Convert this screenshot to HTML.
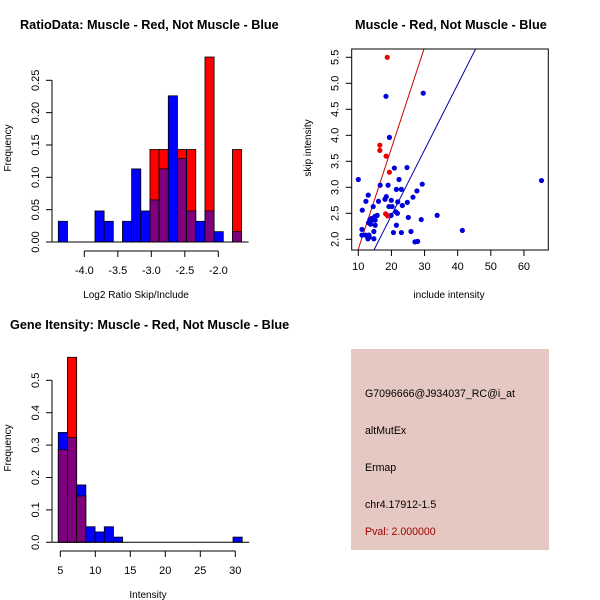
<!DOCTYPE html>
<html><head><meta charset="utf-8"><style>
html,body{margin:0;padding:0;background:#fff}
svg{display:block;font-family:"Liberation Sans",sans-serif}
</style></head><body>
<svg id="c" width="600" height="600" viewBox="0 0 600 600" xmlns="http://www.w3.org/2000/svg">
<rect width="600" height="600" fill="#fff"/>
<text x="20" y="29" font-size="12.7" font-weight="bold">RatioData: Muscle - Red, Not Muscle - Blue</text>
<text x="355" y="29" font-size="12.7" font-weight="bold">Muscle - Red, Not Muscle - Blue</text>
<text x="10" y="329" font-size="12.7" font-weight="bold">Gene Itensity: Muscle - Red, Not Muscle - Blue</text>
<text x="136" y="298" font-size="10" text-anchor="middle">Log2 Ratio Skip/Include</text>
<text transform="translate(11,148) rotate(-90)" font-size="10" text-anchor="middle">Frequency</text>
<text x="449" y="298" font-size="10" text-anchor="middle">include intensity</text>
<text transform="translate(311,148) rotate(-90)" font-size="10" text-anchor="middle">skip intensity</text>
<text x="148" y="598" font-size="10" text-anchor="middle">Intensity</text>
<text transform="translate(11,448) rotate(-90)" font-size="10" text-anchor="middle">Frequency</text>
<g>
<rect x="351" y="349" width="198" height="201" fill="#e6c8c2"/>
<text x="365" y="397" font-size="10.6">G7096666@J934037_RC@i_at</text>
<text x="365" y="434" font-size="10.6">altMutEx</text>
<text x="365" y="471" font-size="10.6">Ermap</text>
<text x="365" y="508" font-size="10.6">chr4.17912-1.5</text>
<text x="365" y="535" font-size="10.6" fill="#a00000">Pval: 2.000000</text>
</g>
</svg>
<script>
// Ratio histogram data
const ratioBinStart = -4.388;
const ratioBinWidth = 0.1368;
const ratioBlue = [0.032,0,0,0,0.048,0.032,0,0.032,0.113,0.048,0.065,0.113,0.226,0.129,0.048,0.032,0.048,0.016,0,0.016];
const ratioRed  = [0,0,0,0,0,0,0,0,0,0,0.143,0.143,0,0.143,0.143,0,0.286,0,0,0.143];
const ratioXTicks = [-4.0,-3.5,-3.0,-2.5,-2.0];
const ratioYTicks = [0,0.05,0.10,0.15,0.20,0.25];
const ratioYLabels = ["0.00","0.05","0.10","0.15","0.20","0.25"];
// Intensity histogram data
const intBinStart = 4.71;
const intBinWidth = 1.314;
const intBlue = [0.339,0.323,0.177,0.048,0.032,0.048,0.016,0,0,0,0,0,0,0,0,0,0,0,0,0.016];
const intRed  = [0.286,0.571,0.143,0,0,0,0,0,0,0,0,0,0,0,0,0,0,0,0,0];
const intXTicks = [5,10,15,20,25,30];
const intYTicks = [0,0.1,0.2,0.3,0.4,0.5];
const intYLabels = ["0.0","0.1","0.2","0.3","0.4","0.5"];
// Scatter data
const redX = [18.75,16.5,16.5,18.4,19.4,18.25,18.85];
const redY = [5.5,3.81,3.71,3.6,3.29,2.49,2.45];
const blueX = [10,18.35,29.6,19.4,16.6,19,20.9,24.7,22.3,21.5,23,29.3,27.7,26.5,13,12.3,16.1,18.05,18.45,19.96,21.9,24.8,23.3,19.25,20.2,14.5,11.2,21.3,21.8,19.9,33.8,25.1,29,15.7,15,14,13.5,14.3,15.1,13.1,13.7,15.1,21.5,11.1,14.7,20.6,23,25.9,41.4,11.1,12.2,13.2,12.9,14.7,27.1,27.9,65.3,13.3];
const blueY = [3.15,4.75,4.81,3.96,3.04,3.04,3.37,3.38,3.15,2.96,2.96,3.06,2.93,2.81,2.85,2.73,2.73,2.77,2.82,2.75,2.72,2.71,2.65,2.63,2.63,2.63,2.56,2.53,2.5,2.46,2.46,2.42,2.38,2.46,2.44,2.4,2.38,2.37,2.37,2.32,2.29,2.27,2.27,2.19,2.15,2.13,2.13,2.15,2.17,2.08,2.08,2.08,2.01,2.01,1.95,1.96,3.13,2.04];
const redLine = [-0.128,0.194];
const blueLine = [-0.061,0.126];
const scXTicks = [10,20,30,40,50,60];
const scYTicks = [2.0,2.5,3.0,3.5,4.0,4.5,5.0,5.5];

const NS="http://www.w3.org/2000/svg";
const svg=document.getElementById('c');
function mk(tag,attrs,parent){const e=document.createElementNS(NS,tag);for(const k in attrs)e.setAttribute(k,attrs[k]);(parent||svg).appendChild(e);return e;}

function hist(opts){
  const g=mk('g',{});
  
  
  const X=v=>opts.x0px+(v-opts.x0)*opts.xs;
  const Y=v=>opts.y0px-v*opts.ys;
  for(let i=0;i<opts.blue.length;i++){
    const l=X(opts.start+i*opts.w), r=X(opts.start+(i+1)*opts.w);
    const b=opts.blue[i], rd=opts.red[i];
    const hi=Math.max(b,rd), lo=Math.min(b,rd);
    if(hi<=0)continue;
    const e=mk('rect',{x:l,y:Y(hi),width:r-l,height:Y(0)-Y(hi),fill:b>=rd?'#0000ff':'#ff0000',stroke:'#000','stroke-width':0.8},g);
    
    
    if(lo>0){
      const p=mk('rect',{x:l,y:Y(lo),width:r-l,height:Y(0)-Y(lo),fill:'#7f007f',stroke:'#000','stroke-width':0.8},g);
      
      
    }
  }
  const base=mk('line',{x1:X(opts.start)-6,x2:X(opts.start+opts.blue.length*opts.w)+7,y1:Y(0),y2:Y(0),stroke:'#000'},g);
  
  
  const ya=mk('g',{},g);
  
  
  const yt=opts.yTicks;
  mk('line',{x1:opts.yAxisX,x2:opts.yAxisX,y1:Y(yt[0]),y2:Y(yt[yt.length-1]),stroke:'#000'},ya);
  yt.forEach((v,i)=>{
    mk('line',{x1:opts.yAxisX-6,x2:opts.yAxisX,y1:Y(v),y2:Y(v),stroke:'#000'},ya);
    const t=mk('text',{transform:`translate(${opts.yAxisX-13},${Y(v)}) rotate(-90)`,'font-size':11,'text-anchor':'middle'},ya);
    t.textContent=opts.yLabels[i];
    
    
  });
  const xa=mk('g',{},g);
  
  
  const xt=opts.xTicks;
  mk('line',{x1:X(xt[0]),x2:X(xt[xt.length-1]),y1:opts.xAxisY,y2:opts.xAxisY,stroke:'#000'},xa);
  xt.forEach(v=>{
    mk('line',{x1:X(v),x2:X(v),y1:opts.xAxisY,y2:opts.xAxisY+6,stroke:'#000'},xa);
    const t=mk('text',{x:X(v),y:opts.xAxisY+23,'font-size':11,'text-anchor':'middle'},xa);
    t.textContent=opts.xFmt(v);
    
    
  });
}
hist({name:'ratio-histogram',start:ratioBinStart,w:ratioBinWidth,blue:ratioBlue,red:ratioRed,
  x0:-4.0,x0px:84.3,xs:67,y0px:242,ys:646.8,yAxisX:52,xAxisY:251,
  yTicks:ratioYTicks,yLabels:ratioYLabels,xTicks:ratioXTicks,xFmt:v=>v.toFixed(1)});
hist({name:'intensity-histogram',start:intBinStart,w:intBinWidth,blue:intBlue,red:intRed,
  x0:5,x0px:60.3,xs:7,y0px:542.3,ys:324,yAxisX:52,xAxisY:551,
  yTicks:intYTicks,yLabels:intYLabels,xTicks:intXTicks,xFmt:v=>String(v)});

(function(){
  const g=mk('g',{});
  
  
  const X=v=>358.3+(v-10)*3.313;
  const Y=v=>239.3-(v-2)*52;
  const L=351.7,R=548.3,T=49,B=250;
  const cp=mk('clipPath',{id:'sc'},g);
  mk('rect',{x:L,y:T,width:R-L,height:B-T},cp);
  const pl=mk('g',{'clip-path':'url(#sc)'},g);
  [[redLine,'#cc0000','red-fit-line'],[blueLine,'#0000aa','blue-fit-line']].forEach(([c,col,nm])=>{
    const x1=5,x2=80;
    const ln=mk('line',{x1:X(x1),y1:Y(c[0]+c[1]*x1),x2:X(x2),y2:Y(c[0]+c[1]*x2),stroke:col,'stroke-width':1},pl);
    
    
  });
  blueX.forEach((x,i)=>{
    const p=mk('circle',{cx:X(x),cy:Y(blueY[i]),r:2.6,fill:'#0000dd'},pl);
    
    
  });
  redX.forEach((x,i)=>{
    const p=mk('circle',{cx:X(x),cy:Y(redY[i]),r:2.6,fill:'#ee0000'},pl);
    
    
  });
  const box=mk('rect',{x:L,y:T,width:R-L,height:B-T,fill:'none',stroke:'#000'},g);
  
  
  scXTicks.forEach(v=>{
    mk('line',{x1:X(v),x2:X(v),y1:B,y2:B+6,stroke:'#000'},g);
    const t=mk('text',{x:X(v),y:B+20,'font-size':11,'text-anchor':'middle'},g);
    t.textContent=String(v);
    
    
  });
  scYTicks.forEach(v=>{
    mk('line',{x1:L-6,x2:L,y1:Y(v),y2:Y(v),stroke:'#000'},g);
    const t=mk('text',{transform:`translate(${L-13},${Y(v)}) rotate(-90)`,'font-size':11,'text-anchor':'middle'},g);
    t.textContent=v.toFixed(1);
    
    
  });
})();
</script>
</body></html>
